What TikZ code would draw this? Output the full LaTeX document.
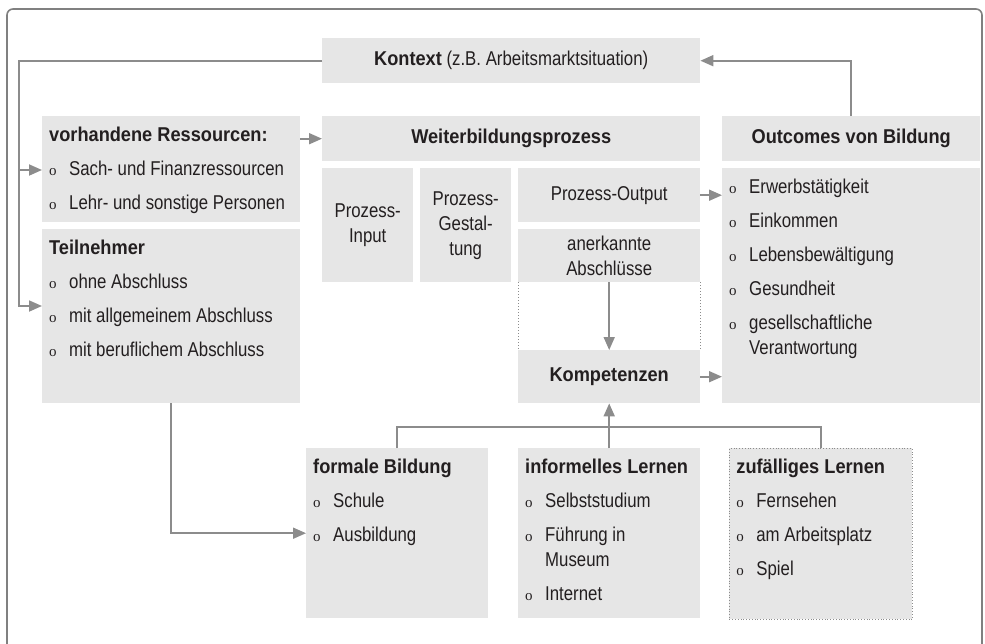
\documentclass[tikz,border=0pt]{standalone}
\usepackage{fontspec}
\setmainfont{Liberation Sans}[UprightFeatures={FakeStretch=0.84},BoldFeatures={FakeStretch=0.91}]
\newfontfamily\bulletfont{Liberation Serif}
\usetikzlibrary{arrows.meta}

\definecolor{boxgray}{HTML}{E6E6E6}
\definecolor{linegray}{HTML}{8C8C8C}
\definecolor{framegray}{HTML}{808080}
\definecolor{textdark}{HTML}{231F20}

% list bullet and hanging indent
\newcommand{\itm}{\makebox[20pt][l]{\bulletfont\fontsize{15pt}{25pt}\selectfont o}}
\newcommand{\gap}{\hspace*{20pt}}
% top aligned box contents: width, height, lines
\newcommand{\liste}[3]{\begin{minipage}[t][#2][t]{#1}\raggedright\rule{0pt}{25pt}#3\end{minipage}}

\tikzset{
  box/.style={fill=boxgray, inner sep=0pt, anchor=north west, align=center},
  listbox/.style={fill=boxgray, inner xsep=7pt, inner ysep=0pt, anchor=north west},
  conn/.style={draw=linegray, line width=1.8pt},
  arr/.style={conn, -{Triangle[length=13pt,width=11pt]}},
}

\begin{document}
\begin{tikzpicture}[x=1pt, y=-1pt, font=\fontsize{20pt}{25pt}\selectfont, text=textdark]
  \useasboundingbox (0,0) rectangle (985,643);
  \draw[framegray, line width=1.6pt, rounded corners=6pt] (7,9) rectangle (982,670);

  % top row
  \node[box, minimum width=378pt, minimum height=45pt] (kontext) at (322,38)
    {\textbf{Kontext} (z.B. Arbeitsmarktsituation)};
  \node[box, minimum width=378pt, minimum height=45pt] (prozess) at (322,116)
    {\textbf{Weiterbildungsprozess}};
  \node[box, minimum width=258pt, minimum height=45pt] (outcomes) at (722,116)
    {\textbf{Outcomes von Bildung}};

  % left column
  \node[listbox] (ressourcen) at (42,116) {\liste{244pt}{106pt}{%
    \textbf{vorhandene Ressourcen:}\\[9pt]
    \itm Sach- und Finanzressourcen\\[9pt]
    \itm Lehr- und sonstige Personen}};
  \node[listbox] (teilnehmer) at (42,229) {\liste{244pt}{174pt}{%
    \textbf{Teilnehmer}\\[9pt]
    \itm ohne Abschluss\\[9pt]
    \itm mit allgemeinem Abschluss\\[9pt]
    \itm mit beruflichem Abschluss}};

  % process
  \node[box, minimum width=91pt, minimum height=114pt] (input) at (322,168) {Prozess-\\Input};
  \node[box, minimum width=91pt, minimum height=114pt] (gestaltung) at (420,168) {Prozess-\\Gestal-\\tung};
  \node[box, minimum width=182pt, minimum height=54pt] (output) at (518,168) {Prozess-Output};
  \node[box, minimum width=182pt, minimum height=53pt] (abschluesse) at (518,229) {anerkannte\\Abschlüsse};
  \node[box, minimum width=182pt, minimum height=53pt] (kompetenzen) at (518,350) {\textbf{Kompetenzen}};

  \node[listbox] (outlist) at (722,168) {\liste{244pt}{235pt}{%
    \itm Erwerbstätigkeit\\[9pt]
    \itm Einkommen\\[9pt]
    \itm Lebensbewältigung\\[9pt]
    \itm Gesundheit\\[9pt]
    \itm gesellschaftliche\\
    \gap Verantwortung}};

  % learning forms
  \node[listbox] (formal) at (306,448) {\liste{168pt}{170pt}{%
    \textbf{formale Bildung}\\[9pt]
    \itm Schule\\[9pt]
    \itm Ausbildung}};
  \node[listbox] (informell) at (518,448) {\liste{168pt}{170pt}{%
    \textbf{informelles Lernen}\\[9pt]
    \itm Selbststudium\\[9pt]
    \itm Führung in\\
    \gap Museum\\[9pt]
    \itm Internet}};
  \node[listbox, draw=linegray, dotted, line width=0.8pt] (zufall) at (729,448) {\liste{169pt}{171pt}{%
    \textbf{zufälliges Lernen}\\[9pt]
    \itm Fernsehen\\[9pt]
    \itm am Arbeitsplatz\\[9pt]
    \itm Spiel}};

  % connectors
  \coordinate (resin) at (42,170);
  \coordinate (tnin) at (42,306);
  \draw[arr] (kontext.west) -| ([xshift=-23pt]tnin) -- (tnin);
  \draw[arr] ([xshift=-23pt]resin) -- (resin);
  \draw[arr] (ressourcen.east |- prozess.west) -- (prozess.west);
  \draw[arr] (outcomes.north) |- (kontext.east);
  \draw[arr] (output.east) -- (output.east -| outlist.west);
  \draw[arr] (kompetenzen.east) -- (kompetenzen.east -| outlist.west);
  \draw[linegray, dotted, line width=1pt] (abschluesse.south west) -- (kompetenzen.north west);
  \draw[linegray, dotted, line width=1pt] (abschluesse.south east) -- (kompetenzen.north east);
  \draw[arr] (abschluesse.south) -- (kompetenzen.north);
  \draw[arr] (teilnehmer.south) |- (formal.west);
  \draw[conn] (formal.north) -- ++(0,-21) -| (zufall.north);
  \draw[arr] (informell.north) -- (kompetenzen.south);
\end{tikzpicture}
\end{document}
